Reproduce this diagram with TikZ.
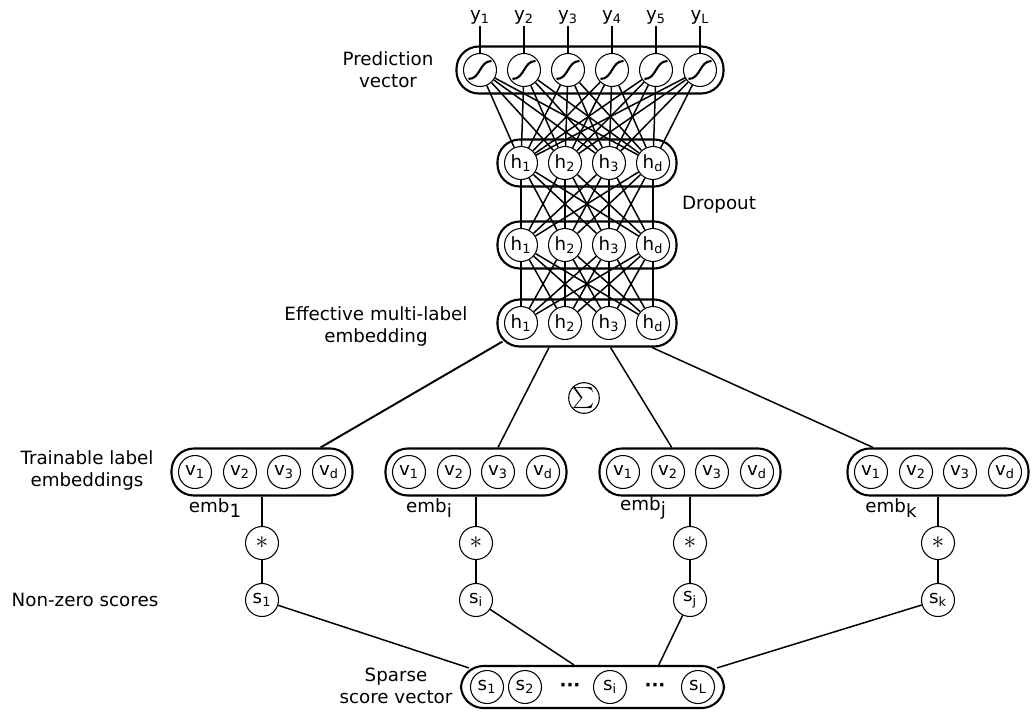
\documentclass[tikz,border=0pt]{standalone}
\usepackage{amsmath}
\usepackage{fontspec}
\setmainfont{DejaVu Sans}
\usetikzlibrary{fit,calc}

\newcommand{\lsub}[1]{\textsubscript{#1}}
\newcommand{\embsub}[1]{\raisebox{-0.45ex}{#1}}

\tikzset{
  unit/.style={circle,draw,line width=0.6pt,minimum size=0.66cm,inner sep=0pt},
  sigunit/.style={unit,path picture={
      \draw[line width=1.2pt]
        ([xshift=-0.23cm,yshift=-0.18cm]path picture bounding box.center)
        .. controls +(0.24cm,0) and +(-0.24cm,0) ..
        ([xshift=0.23cm,yshift=0.18cm]path picture bounding box.center);}},
  vecbox/.style={draw,line width=1.2pt,rounded corners=0.45cm,inner sep=0.13cm},
  conn/.style={line width=0.85pt},
  txt/.style={align=center,inner sep=1pt}
}

\begin{document}
\begin{tikzpicture}[x=0.02cm,y=-0.02cm,font=\fontsize{10.4}{12.5}\selectfont]
\useasboundingbox (0,0) rectangle (1035,711);

% prediction vector
\foreach \x/\t [count=\i] in {480/1,524/2,568/3,612/4,656/5,700/L} {
  \node[sigunit] (sig\i) at (\x,70) {};
  \node[inner sep=1pt] (y\i) at (\x,17) {y\lsub{\t}};
  \draw[conn] (y\i) -- (sig\i);
}
\node[vecbox,fit=(sig1)(sig6)] (predbox) {};
\node[txt] (predlbl) at (388,70) {Prediction\\vector};

% hidden layers
\foreach \x/\t [count=\i] in {521/1,565/2,609/3,653/d} {
  \node[unit] (ha\i) at (\x,163) {h\lsub{\t}};
  \node[unit] (hb\i) at (\x,245) {h\lsub{\t}};
  \node[unit] (hc\i) at (\x,323) {h\lsub{\t}};
}
\node[vecbox,fit=(ha1)(ha4)] (hboxa) {};
\node[vecbox,fit=(hb1)(hb4)] (hboxb) {};
\node[vecbox,fit=(hc1)(hc4)] (effbox) {};

\foreach \i in {1,...,6}
  \foreach \j in {1,...,4}
    \draw[conn] (sig\i) -- (ha\j);
\foreach \i in {1,...,4}
  \foreach \j in {1,...,4} {
    \draw[conn] (ha\i) -- (hb\j);
    \draw[conn] (hb\i) -- (hc\j);
  }

\node[txt] (droplbl) at (719,205) {Dropout};
\node[txt] (efflbl) at (376,326) {Effective multi-label\\embedding};

% label embeddings
\foreach \g/\cx in {1/262,i/476,j/690,k/938} {
  \foreach \dx/\t [count=\n] in {-67/1,-22/2,22/3,67/d}
    \node[unit] (v\g\n) at (\cx+\dx,472) {v\lsub{\t}};
  \node[vecbox,fit=(v\g1)(v\g4)] (emb\g) {};
  \node[unit,font=\fontsize{14}{14}\selectfont] (mul\g) at (\cx,543) {$*$};
  \node[unit] (s\g) at (\cx,600) {s\lsub{\g}};
  \node[txt] (emblbl\g) at (\cx-47,508) {emb\embsub{\g}};
  \draw[conn] (emb\g) -- (mul\g) -- (s\g);
}

\node[circle,draw,line width=0.6pt,minimum size=0.54cm,inner sep=0pt,
  font=\fontsize{12}{12}\selectfont] (sumop) at (584,398) {$\sum$};

\draw[conn,line width=1.1pt] ($(effbox.south west)+(6,-6)$) -- ($(emb1.north west)!.82!(emb1.north east)$);
\draw[conn] ($(effbox.south west)!.29!(effbox.south east)$) -- ($(embi.north west)!.62!(embi.north east)$);
\draw[conn] ($(effbox.south west)!.63!(effbox.south east)$) -- ($(embj.north west)!.4!(embj.north east)$);
\draw[conn] ($(effbox.south west)!.86!(effbox.south east)$) -- ($(embk.north west)!.145!(embk.north east)$);

\node[txt] (trainlbl) at (87,470) {Trainable label\\embeddings};
\node[txt] (scorelbl) at (85,600) {Non-zero scores};

% sparse score vector
\node[unit] (sp1) at (487,687) {s\lsub{1}};
\node[unit] (sp2) at (525,687) {s\lsub{2}};
\node (dotsa) at (570,687) {\textbf{···}};
\node[unit] (spi) at (610,687) {s\lsub{i}};
\node (dotsb) at (655,687) {\textbf{···}};
\node[unit] (spL) at (698,687) {s\lsub{L}};
\node[vecbox,inner xsep=0.18cm,inner ysep=0.08cm,fit=(sp1)(spL)] (sparse) {};
\node[txt] (sparselbl) at (396,686) {Sparse\\score vector};

\draw[conn] (s1) -- ($(sparse.north west)+(9,3)$);
\draw[conn] (si) -- ($(sparse.north west)!.43!(sparse.north east)$);
\draw[conn] (sj) -- ($(sparse.north west)!.75!(sparse.north east)$);
\draw[conn] (sk) -- ($(sparse.north east)+(-8,3)$);

\end{tikzpicture}
\end{document}
